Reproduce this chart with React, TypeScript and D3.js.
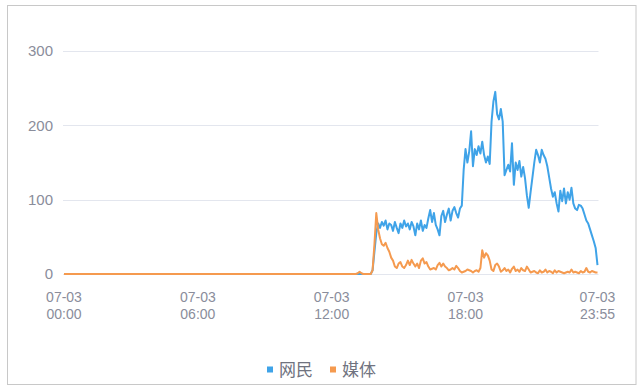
import React from "react";
import * as d3 from "d3";

// 5-minute slots for 07-03, 00:00 through 23:55
const slotCount = 288;
const xTickSlots = [0, 72, 144, 216, 287];
const xTickLabels = [
  ["07-03", "00:00"],
  ["07-03", "06:00"],
  ["07-03", "12:00"],
  ["07-03", "18:00"],
  ["07-03", "23:55"],
];
const yTicks = [0, 100, 200, 300];
const seriesNames = ["网民", "媒体"];
const seriesColors = ["#3fa3e8", "#f59a4f"];

// 网民 activity from slot 160 onward (earlier slots are zero)
const netizenTail = [
  0, 0, 0, 0, 0, 0, 5, 30, 55, 68,
  62, 70, 65, 72, 60, 68, 66, 58, 70, 62,
  55, 68, 62, 72, 64, 68, 60, 70, 64, 52,
  68, 60, 72, 58, 66, 62, 75, 86, 70, 82,
  66, 60, 52, 78, 85, 70, 80, 88, 72, 85,
  90, 82, 76, 88, 92, 140, 168, 150, 165, 192,
  145, 168, 160, 172, 162, 178, 160, 150, 158, 148,
  205, 232, 245, 215, 208, 222, 205, 133, 140, 147,
  138, 176, 120, 150, 140, 152, 131, 144, 129, 106,
  89, 110, 130, 150, 167, 160, 150, 167, 160, 155,
  145, 130, 115, 104, 110, 95, 84, 112, 98, 115,
  95, 110, 100, 116, 95, 88, 86, 93, 92, 88,
  80, 72, 68, 60, 52, 44, 35, 12,
];

// 媒体 activity from slot 158 onward (earlier slots are zero)
const mediaTail = [
  1, 3, 1, 0, 0, 0, 0, 0, 5, 40,
  82, 60, 48, 40, 38, 42, 35, 30, 22, 18,
  10, 8, 14, 16, 10, 8, 12, 18, 12, 19,
  14, 10, 14, 8, 18, 21, 14, 16, 10, 6,
  7, 8, 6, 12, 15, 10, 14, 10, 8, 5,
  6, 8, 6, 11, 8, 4, 2, 3, 4, 6,
  5, 4, 2, 4, 5, 3, 8, 32, 22, 28,
  25, 18, 6, 4, 12, 14, 10, 3, 5, 8,
  4, 6, 2, 7, 10, 4, 6, 3, 8, 5,
  4, 10, 6, 2, 3, 4, 2, 1, 5, 2,
  3, 6, 2, 4, 3, 1, 5, 2, 4, 3,
  2, 1, 2, 3, 2, 6, 2, 3, 2, 1,
  4, 2, 3, 8, 3, 2, 4, 3, 2, 2,
];

const padSeries = (tail: number[]) =>
  Array.from({ length: slotCount - tail.length }, () => 0).concat(tail);

const netizen = padSeries(netizenTail);
const media = padSeries(mediaTail);

const W = 644;
const H = 392;
const plot = { left: 64, right: 597.5, top: 51, bottom: 274 };

export default function App() {
  const x = d3.scaleLinear().domain([0, slotCount - 1]).range([plot.left, plot.right]);
  const y = d3.scaleLinear().domain([0, 300]).range([plot.bottom, plot.top]);
  const line = d3
    .line<number>()
    .x((_, i) => x(i))
    .y((d) => y(d));

  const labelFont = "'Liberation Sans', 'Noto Sans CJK SC', sans-serif";
  const labelColor = "#8a8d9b";

  return (
    <svg
      width={W}
      height={H}
      style={{ position: "absolute", left: 0, top: 0, background: "#fff" }}
    >
      <rect x={7.5} y={5.5} width={628.5} height={379} fill="#fff" stroke="#c8c8c8" />
      {yTicks.map((t) => (
        <g key={t}>
          <line
            x1={plot.left - 1}
            x2={plot.right + 1}
            y1={Math.round(y(t)) + 0.5}
            y2={Math.round(y(t)) + 0.5}
            stroke="#e3e6ee"
          />
          <text
            x={53}
            y={y(t)}
            dy="0.35em"
            textAnchor="end"
            fontSize={15}
            fill={labelColor}
            fontFamily={labelFont}
          >
            {t}
          </text>
        </g>
      ))}
      {xTickSlots.map((s, i) =>
        xTickLabels[i].map((part, j) => (
          <text
            key={`${s}-${j}`}
            x={x(s)}
            y={302 + j * 16.5}
            textAnchor="middle"
            fontSize={14}
            fill={labelColor}
            fontFamily={labelFont}
          >
            {part}
          </text>
        ))
      )}
      <path
        d={line(netizen) ?? ""}
        fill="none"
        stroke={seriesColors[0]}
        strokeWidth={2}
        strokeLinejoin="round"
      />
      <path
        d={line(media) ?? ""}
        fill="none"
        stroke={seriesColors[1]}
        strokeWidth={2}
        strokeLinejoin="round"
      />
      {seriesNames.map((name, i) => {
        const lx = 267 + i * 63;
        return (
          <g key={name}>
            <rect x={lx} y={366.5} width={6} height={6} fill={seriesColors[i]} />
            <text
              x={lx + 12}
              y={370}
              dy="0.35em"
              fontSize={17}
              fill="#70737f"
              fontFamily="'Noto Sans CJK SC', sans-serif"
            >
              {name}
            </text>
          </g>
        );
      })}
    </svg>
  );
}
